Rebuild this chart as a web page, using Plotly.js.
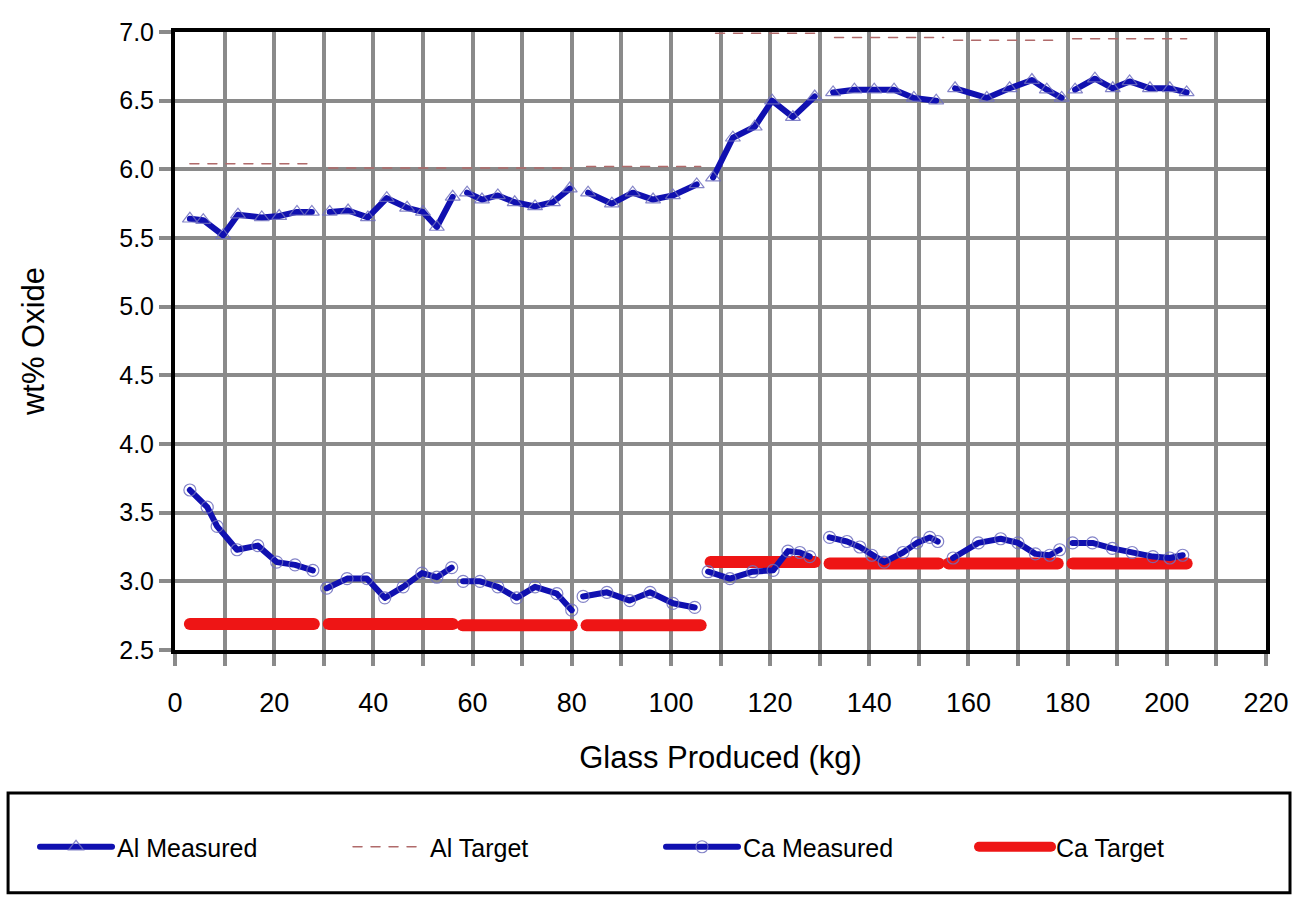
<!DOCTYPE html>
<html>
<head>
<meta charset="utf-8">
<script src="https://cdn.plot.ly/plotly-3.0.1.min.js"></script>
<style>
  html, body { margin: 0; padding: 0; background: #ffffff; }
  #chart { width: 1298px; height: 897px; }
  /* rounded ends on the series strokes */
  .scatterlayer .js-line, .legend .js-line { stroke-linecap: round; stroke-linejoin: round; }
</style>
</head>
<body>
<div id="chart"></div>
<script>
// Measured oxide content, one sub-list per glass batch campaign
const alMeasuredX = [
  [3, 5.7, 9.7, 12.7, 17.5, 21, 24.6, 27.6],
  [31.2, 34.9, 38.9, 42.7, 46.8, 50, 52.8, 56],
  [58.9, 61.9, 65.1, 68.5, 72.6, 76.2, 79.6],
  [83.3, 88.1, 92.3, 96.4, 100.4, 105.2],
  [108.5, 112.5, 116.9, 120.4, 124.6, 129],
  [132.7, 137, 141, 145, 149, 153.5],
  [157.3, 163.7, 168.3, 172.8, 175.8, 178.8],
  [181.5, 185.5, 189.1, 192.5, 196.6, 200.6, 204]
];
const alMeasuredY = [
  [5.64, 5.63, 5.52, 5.67, 5.65, 5.66, 5.69, 5.69],
  [5.69, 5.70, 5.65, 5.79, 5.72, 5.69, 5.58, 5.80],
  [5.83, 5.78, 5.81, 5.76, 5.73, 5.76, 5.86],
  [5.83, 5.75, 5.83, 5.78, 5.81, 5.89],
  [5.94, 6.23, 6.31, 6.50, 6.38, 6.53],
  [6.56, 6.58, 6.58, 6.58, 6.52, 6.50],
  [6.59, 6.52, 6.59, 6.65, 6.58, 6.52],
  [6.58, 6.66, 6.59, 6.64, 6.59, 6.59, 6.56]
];
const caMeasuredX = [
  [3, 6.5, 8.5, 12.5, 16.7, 20.5, 24.2, 27.8],
  [30.6, 34.7, 38.7, 42.3, 46, 49.8, 52.8, 55.8],
  [58.1, 61.5, 65.1, 68.9, 72.6, 77, 80],
  [82.3, 87.1, 91.7, 95.8, 100.4, 104.8],
  [107.5, 111.9, 116.5, 120.6, 123.6, 126, 128],
  [132, 135.5, 138.1, 140.5, 143, 146.8, 149.6, 152.2, 153.8],
  [156.9, 162, 166.5, 170, 173.5, 176.4, 178.4],
  [181, 185, 189, 193, 197.2, 200.6, 203.2]
];
const caMeasuredY = [
  [3.665, 3.54, 3.40, 3.23, 3.26, 3.14, 3.12, 3.08],
  [2.95, 3.02, 3.02, 2.88, 2.96, 3.06, 3.03, 3.10],
  [3.00, 3.00, 2.96, 2.88, 2.96, 2.91, 2.79],
  [2.89, 2.92, 2.86, 2.92, 2.84, 2.81],
  [3.07, 3.02, 3.07, 3.08, 3.22, 3.21, 3.18],
  [3.32, 3.29, 3.25, 3.19, 3.14, 3.21, 3.28, 3.32, 3.29],
  [3.17, 3.28, 3.31, 3.28, 3.20, 3.19, 3.23],
  [3.28, 3.28, 3.24, 3.21, 3.18, 3.17, 3.19]
];

// Target composition per campaign (start kg, end kg, wt%)
const alTargetStart = [3, 31, 58, 83, 109, 133, 157, 181];
const alTargetEnd   = [28, 56, 80, 106, 129, 155, 178, 204];
const alTargetValue = [6.04, 6.01, 6.01, 6.02, 6.99, 6.96, 6.94, 6.95];

const caTargetStart = [3, 31, 58, 83, 108, 132, 156, 181];
const caTargetEnd   = [28, 56, 80, 106, 129, 154, 178, 204];
const caTargetValue = [2.69, 2.69, 2.68, 2.68, 3.14, 3.13, 3.13, 3.13];

const xTickValues = [0, 20, 40, 60, 80, 100, 120, 140, 160, 180, 200, 220];
const yTickValues = [2.5, 3.0, 3.5, 4.0, 4.5, 5.0, 5.5, 6.0, 6.5, 7.0];

// join the per-campaign pieces with gaps so each campaign is its own run
function joinRuns(runs) {
  const out = [];
  runs.forEach((r, i) => { if (i) out.push(null); out.push(...r); });
  return out;
}
function stepRuns(starts, ends, vals) {
  const xs = [], ys = [];
  starts.forEach((s, i) => {
    if (i) { xs.push(null); ys.push(null); }
    xs.push(s, ends[i]); ys.push(vals[i], vals[i]);
  });
  return {xs, ys};
}

const alT = stepRuns(alTargetStart, alTargetEnd, alTargetValue);
const caT = stepRuns(caTargetStart, caTargetEnd, caTargetValue);

const FONT = 'Liberation Sans, Arial, sans-serif';
const BLUE = '#1010b0';

const traces = [
  {
    name: 'Ca Target', x: caT.xs, y: caT.ys, mode: 'lines', connectgaps: false,
    line: {color: '#ee1515', width: 12}, legendrank: 4
  },
  {
    name: 'Al Target', x: alT.xs, y: alT.ys, mode: 'lines', connectgaps: false,
    line: {color: '#b06a6a', width: 1.5, dash: 'dash'}, legendrank: 2
  },
  {
    name: 'Al Measured', x: joinRuns(alMeasuredX), y: joinRuns(alMeasuredY),
    mode: 'lines+markers', connectgaps: false,
    line: {color: BLUE, width: 6},
    marker: {symbol: 'triangle-up-open', size: 13, color: 'rgba(110,110,190,0.85)', line: {width: 1.2}},
    legendrank: 1
  },
  {
    name: 'Ca Measured', x: joinRuns(caMeasuredX), y: joinRuns(caMeasuredY),
    mode: 'lines+markers', connectgaps: false,
    line: {color: BLUE, width: 6},
    marker: {symbol: 'circle-open', size: 12, color: 'rgba(110,110,190,0.85)', line: {width: 1.2}},
    legendrank: 3
  }
];

const layout = {
  width: 1298, height: 897,
  margin: {l: 175, r: 32, t: 32, b: 247},
  paper_bgcolor: '#ffffff', plot_bgcolor: '#ffffff',
  font: {family: FONT, color: '#000000'},
  showlegend: true,
  xaxis: {
    range: [0, 220], tickvals: xTickValues, ticktext: xTickValues.map(String),
    showgrid: true, gridcolor: '#8a8a8a', gridwidth: 4,
    minor: {dtick: 10, tick0: 0, showgrid: true, gridcolor: '#8a8a8a', gridwidth: 4,
            ticks: 'outside', ticklen: 12, tickwidth: 4, tickcolor: '#8a8a8a'},
    ticks: 'outside', ticklen: 12, tickwidth: 4, tickcolor: '#8a8a8a',
    ticklabelstandoff: 14,
    showline: true, linecolor: '#000000', linewidth: 4, mirror: true,
    zeroline: false,
    tickfont: {size: 27, family: FONT},
    title: {text: 'Glass Produced (kg)', font: {size: 31, family: FONT}, standoff: 30}
  },
  yaxis: {
    range: [2.5, 7.0], tickvals: yTickValues, ticktext: yTickValues.map(v => v.toFixed(1)),
    showgrid: true, gridcolor: '#8a8a8a', gridwidth: 4,
    ticks: 'outside', ticklen: 12, tickwidth: 4, tickcolor: '#8a8a8a',
    ticklabelstandoff: 0,
    showline: true, linecolor: '#000000', linewidth: 4, mirror: true,
    zeroline: false,
    tickfont: {size: 25, family: FONT},
    title: {text: 'wt% Oxide', font: {size: 31, family: FONT}, standoff: 66}
  },
  legend: {
    orientation: 'h', traceorder: 'normal',
    x: -0.1283, xanchor: 'left', y: -0.3188, yanchor: 'middle',
    entrywidth: 226, entrywidthmode: 'pixels', itemwidth: 72,
    font: {size: 25, family: FONT}, bgcolor: 'rgba(0,0,0,0)', borderwidth: 0
  },
  shapes: [
    {type: 'rect', xref: 'paper', yref: 'paper',
     x0: -0.153, x1: 1.022, y0: -0.2314, y1: -0.393,
     line: {color: '#000000', width: 3}, fillcolor: 'rgba(0,0,0,0)', layer: 'above'}
  ]
};

Plotly.newPlot('chart', traces, layout, {displayModeBar: false, staticPlot: true});
</script>
</body>
</html>
